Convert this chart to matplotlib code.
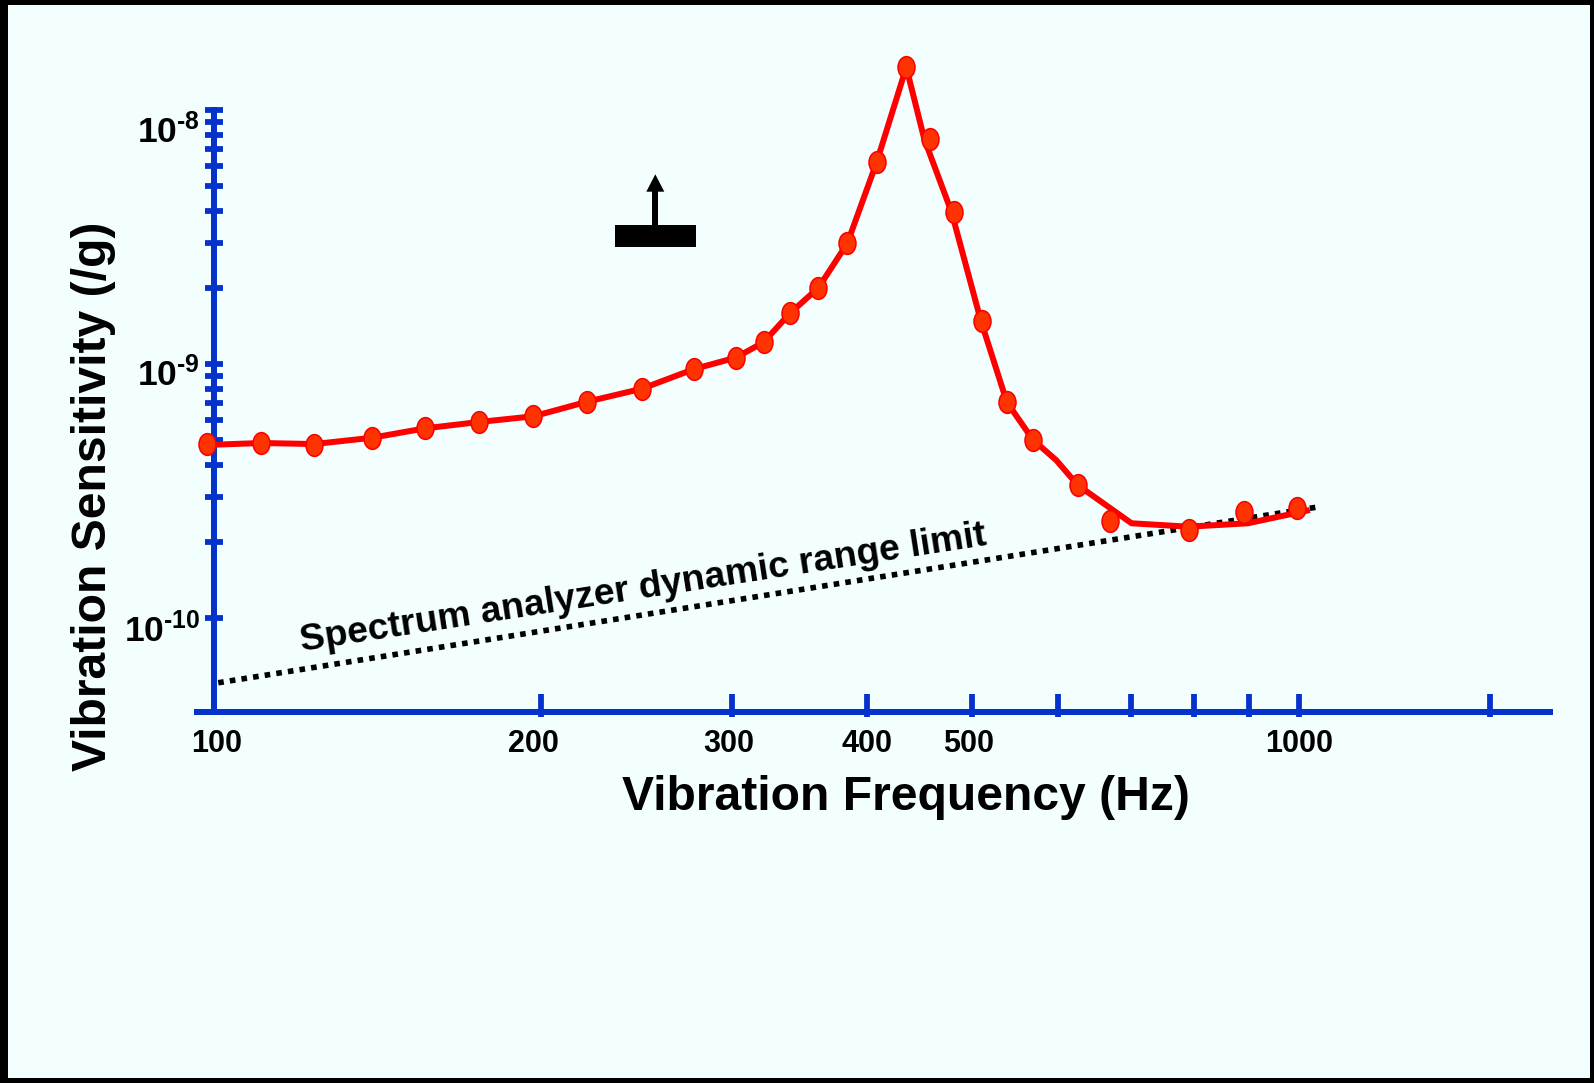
import matplotlib
matplotlib.use("Agg")
import matplotlib.pyplot as plt
from matplotlib.markers import MarkerStyle
from matplotlib.patches import Rectangle, Polygon
from matplotlib.path import Path
from matplotlib.ticker import NullFormatter
from matplotlib.transforms import Affine2D, ScaledTranslation

plt.rcParams.update({
    "font.family": "Liberation Sans",
    "font.weight": "bold",
    "mathtext.fontset": "custom",
    "mathtext.rm": "Liberation Sans:bold",
    "mathtext.bf": "Liberation Sans:bold",
    "mathtext.default": "rm",
})

# Data
marker_freq = [98.6, 110.5, 123.7, 139.9, 156.6, 175.5, 197.0, 220.8, 248.0, 277.1,
               302.6, 321.0, 339.5, 360.7, 383.5, 408.1, 434.6, 457.3, 481.2, 510.3,
               538.1, 568.6, 625.2, 669.6, 791.3, 889.1, 995.8]
marker_sens = [4.855e-10, 4.886e-10, 4.798e-10, 5.125e-10, 5.583e-10, 5.911e-10, 6.225e-10,
               7.105e-10, 7.993e-10, 9.557e-10, 1.059e-9, 1.217e-9, 1.583e-9, 1.997e-9,
               2.987e-9, 6.225e-9, 1.473e-8, 7.69e-9, 3.967e-9, 1.480e-9, 7.067e-10,
               5.034e-10, 3.339e-10, 2.416e-10, 2.220e-10, 2.614e-10, 2.703e-10]
line_freq = [98.6, 110.5, 123.7, 139.9, 156.6, 175.5, 197.0, 220.8, 248.0, 277.1,
             302.6, 321.0, 339.5, 360.7, 383.5, 408.1, 434.6, 451.5, 478.4, 509.2,
             538.1, 568.6, 597.6, 625.2, 701.0, 791.3, 897.5, 1017.0]
line_sens = [4.80e-10, 4.886e-10, 4.84e-10, 5.125e-10, 5.583e-10, 5.911e-10, 6.225e-10,
             7.105e-10, 7.993e-10, 9.557e-10, 1.059e-9, 1.217e-9, 1.583e-9, 1.997e-9,
             2.987e-9, 6.225e-9, 1.473e-8, 7.69e-9, 3.967e-9, 1.477e-9, 7.067e-10,
             5.034e-10, 4.177e-10, 3.339e-10, 2.360e-10, 2.288e-10, 2.360e-10, 2.646e-10]
limit_freq = [100.9, 1036.7]
limit_sens = [5.56e-11, 2.728e-10]

x_ticks = [100, 200, 300, 400, 500, 600, 700, 800, 900, 1000, 1500]
x_tick_labels = ["100", "200", "300", "400", "500", "", "", "", "", "1000", ""]
x_label_shift_px = {100: 2.5, 200: -7, 300: -3, 400: 0, 500: -4, 1000: 0}
y_ticks = [1e-10, 2e-10, 3e-10, 4e-10, 5e-10, 6e-10, 7e-10, 8e-10, 9e-10,
           1e-9, 2e-9, 3e-9, 4e-9, 5e-9, 6e-9, 7e-9, 8e-9, 9e-9, 1e-8]
y_label_values = {1e-10: r"$10^{\text{-}10}$", 1e-9: r"$10^{\text{-}9}$", 1e-8: r"$10^{\text{-}8}$"}
y_label_shift_px = {1e-10: -9, 1e-9: -7, 1e-8: -18}

W, H = 1594, 1083
BLUE = "#0433CC"
BG = "#F3FFFF"
px = 72 / 100  # points per pixel at 100 dpi

fig = plt.figure(figsize=(W / 100, H / 100), dpi=100, facecolor="black")
fig.add_artist(Rectangle((8 / W, 5 / H), (1590 - 8) / W, (1078 - 5) / H,
                         transform=fig.transFigure, facecolor=BG, edgecolor="none", zorder=-10))
ax = fig.add_axes([214 / W, (H - 712) / H, (1550 - 214) / W, (712 - 110) / H])
ax.patch.set_visible(False)
ax.set_xscale("log")
ax.set_yscale("log")
ax.set_xlim(100, 1703.8)
ax.set_ylim(4.265e-11, 1e-8)

for s in ("top", "right"):
    ax.spines[s].set_visible(False)
for s in ("left", "bottom"):
    ax.spines[s].set_color(BLUE)
    ax.spines[s].set_linewidth(6 * px)
ax.spines["bottom"].set_bounds(96.46, 1703.8)

ax.set_xticks(x_ticks)
ax.set_xticklabels(x_tick_labels, fontsize=22, fontweight="bold")
ax.xaxis.set_minor_formatter(NullFormatter())
ax.xaxis.remove_overlapping_locs = False
ax.set_xticks(x_ticks[1:], minor=True)
ax.tick_params(axis="x", which="major", direction="in", length=18 * px, width=5.8 * px,
               color=BLUE, pad=17 * px)
ax.tick_params(axis="x", which="minor", direction="out", length=5 * px, width=5.8 * px, color=BLUE)
for v, tick in zip(x_ticks, ax.xaxis.get_major_ticks()):
    if v in x_label_shift_px:
        lab = tick.label1
        lab.set_transform(lab.get_transform() +
                          ScaledTranslation(x_label_shift_px[v] * px / 72, 0, fig.dpi_scale_trans))

ax.set_yticks(y_ticks)
ax.set_yticklabels([y_label_values.get(v, "") for v in y_ticks], fontsize=25.5)
ax.yaxis.set_minor_locator(plt.NullLocator())
ax.tick_params(axis="y", which="major", direction="inout", length=18 * px, width=5.8 * px,
               color=BLUE, pad=3.5)
for v, tick in zip(y_ticks, ax.yaxis.get_major_ticks()):
    if v in y_label_shift_px:
        lab = tick.label1
        lab.set_transform(lab.get_transform() +
                          ScaledTranslation(0, y_label_shift_px[v] * px / 72, fig.dpi_scale_trans))

ax.plot(limit_freq, limit_sens, color="black", lw=5.6 * px, linestyle=(0, (1, 1.1)),
        dash_capstyle="butt", clip_on=False, zorder=3)
ax.plot(line_freq, line_sens, color="#FF0000", lw=6 * px, clip_on=False, zorder=4,
        solid_joinstyle="miter")
oval = Affine2D().scale(0.78, 1).transform_path(Path.unit_circle())
ax.plot(marker_freq, marker_sens, linestyle="none", marker=MarkerStyle(oval), markersize=21.7 * px,
        markerfacecolor="#FF3300", markeredgecolor="#FF0000", markeredgewidth=1.6 * px,
        clip_on=False, zorder=5)

def fx(x):
    return x / W

def fy(y):
    return (H - y) / H

fig.text(fx(643.5), fy(589), "Spectrum analyzer dynamic range limit", fontsize=26.9, rotation=8.8,
         rotation_mode="anchor", ha="center", va="center", color="black")
fig.text(fx(906), fy(797), "Vibration Frequency (Hz)", fontsize=34.6, ha="center", va="center")
fig.text(fx(93.5), fy(496), "Vibration Sensitivity (/g)", fontsize=34.6, rotation=90, ha="center", va="center")

# Orientation icon: block with an upward arrow
fig.add_artist(Rectangle((fx(615), fy(247.3)), 81 / W, 22.3 / H, transform=fig.transFigure,
                         facecolor="black", edgecolor="none"))
fig.add_artist(Rectangle((fx(652.3), fy(226)), 6 / W, 35 / H, transform=fig.transFigure,
                         facecolor="black", edgecolor="none"))
fig.add_artist(Polygon([(fx(646.3), fy(191.7)), (fx(664.3), fy(191.7)), (fx(655.3), fy(174.3))],
                       closed=True, transform=fig.transFigure, facecolor="black", edgecolor="none"))

fig.savefig("out.png", dpi=100, facecolor=fig.get_facecolor())
